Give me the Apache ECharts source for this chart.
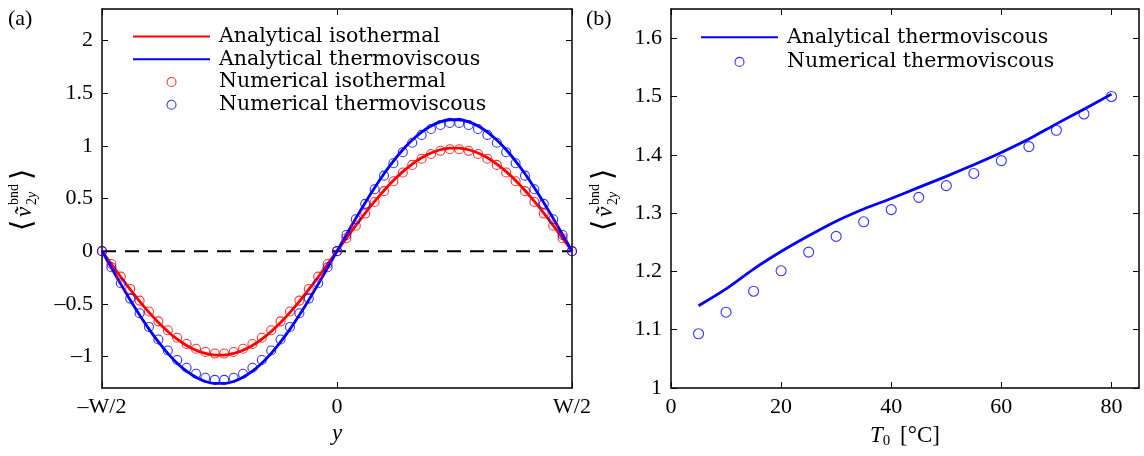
<!DOCTYPE html>
<html>
<head>
<meta charset="utf-8">
<script src="https://cdn.jsdelivr.net/npm/echarts@6/dist/echarts.min.js"></script>
<style>
html,body{margin:0;padding:0;background:#fff;}
#chart{width:1144px;height:456px;}
</style>
</head>
<body>
<div id="chart"></div>
<script>
// ---------- Panel (a) data ----------
const yPos = [-0.5,-0.48,-0.46,-0.44,-0.42,-0.4,-0.38,-0.36,-0.34,-0.32,-0.3,-0.28,-0.26,-0.24,-0.22,-0.2,-0.18,-0.16,-0.14,-0.12,-0.1,-0.08,-0.06,-0.04,-0.02,0,
  0.02,0.04,0.06,0.08,0.1,0.12,0.14,0.16,0.18,0.2,0.22,0.24,0.26,0.28,0.3,0.32,0.34,0.36,0.38,0.4,0.42,0.44,0.46,0.48,0.5];
const anaIso = [0,-0.124,-0.246,-0.364,-0.477,-0.582,-0.678,-0.763,-0.836,-0.896,-0.942,-0.972,-0.988,-0.988,-0.972,-0.942,-0.896,-0.836,-0.763,-0.678,-0.582,-0.477,-0.364,-0.246,-0.124,0,
  0.123,0.244,0.361,0.472,0.576,0.671,0.755,0.827,0.887,0.932,0.963,0.978,0.978,0.963,0.932,0.887,0.827,0.755,0.671,0.576,0.472,0.361,0.244,0.123,0];
const anaThermo = [0,-0.158,-0.313,-0.464,-0.607,-0.741,-0.862,-0.971,-1.064,-1.140,-1.198,-1.238,-1.257,-1.257,-1.238,-1.198,-1.140,-1.064,-0.971,-0.862,-0.741,-0.607,-0.464,-0.313,-0.158,0,
  0.157,0.311,0.460,0.602,0.735,0.856,0.963,1.055,1.131,1.189,1.228,1.248,1.248,1.228,1.189,1.131,1.055,0.963,0.856,0.735,0.602,0.460,0.311,0.157,0];
const numIso = [0,-0.122,-0.242,-0.359,-0.470,-0.573,-0.667,-0.751,-0.823,-0.882,-0.927,-0.958,-0.973,-0.973,-0.958,-0.927,-0.882,-0.823,-0.751,-0.667,-0.573,-0.470,-0.359,-0.242,-0.122,0,
  0.122,0.241,0.357,0.467,0.570,0.664,0.747,0.819,0.878,0.923,0.953,0.968,0.968,0.953,0.923,0.878,0.819,0.747,0.664,0.570,0.467,0.357,0.241,0.122,0];
const numThermo = [0,-0.153,-0.305,-0.451,-0.590,-0.720,-0.839,-0.944,-1.034,-1.108,-1.165,-1.203,-1.223,-1.223,-1.203,-1.165,-1.108,-1.034,-0.944,-0.839,-0.720,-0.590,-0.451,-0.305,-0.153,0,
  0.153,0.303,0.449,0.588,0.717,0.835,0.940,1.030,1.104,1.160,1.198,1.218,1.218,1.198,1.160,1.104,1.030,0.940,0.835,0.717,0.588,0.449,0.303,0.153,0];
const zeroLineX = [-0.5, 0.5];
const zeroLineY = [0, 0];
const aXTicks = [-0.5, 0, 0.5];
const aXTickLabels = ['\u2013W/2', '0', 'W/2'];
const aYTicks = [-1, -0.5, 0, 0.5, 1, 1.5, 2];

// ---------- Panel (b) data ----------
const T0 = [5,10,15,20,25,30,35,40,45,50,55,60,65,70,75,80];
const anaThermoT = [1.141,1.170,1.204,1.234,1.261,1.286,1.307,1.325,1.344,1.363,1.383,1.404,1.427,1.453,1.478,1.504];
const numThermoT = [1.093,1.130,1.166,1.201,1.233,1.260,1.285,1.306,1.327,1.347,1.368,1.390,1.414,1.442,1.470,1.500];
const bXTicks = [0, 20, 40, 60, 80];
const bYTicks = [1, 1.1, 1.2, 1.3, 1.4, 1.5, 1.6];

const names = ['Analytical isothermal','Analytical thermoviscous','Numerical isothermal','Numerical thermoviscous'];

const RED = '#ff0000', BLUE = '#0000ff';
const tickFont = {fontFamily:'"Liberation Serif", "DejaVu Serif", serif', fontSize:22, color:'#000'};
const zip = (a,b) => a.map((v,i)=>[v,b[i]]);

function axisBase(extra){
  return Object.assign({
    type:'value',
    axisLine:{show:true, onZero:false, lineStyle:{color:'#000', width:1.5}},
    axisTick:{show:true, inside:true, length:6, lineStyle:{color:'#000', width:1}},
    splitLine:{show:false},
  }, extra);
}
function negFmt(v){ return v < 0 ? '\u2013' + String(Math.abs(v)) : String(v); }

const chart = echarts.init(document.getElementById('chart'), null, {renderer:'canvas'});

const lineLegend = (n) => ({name:n, itemStyle:{opacity:0}});
const circLegend = (n, c) => ({name:n, itemStyle:{color:'rgba(0,0,0,0)', borderColor:c, borderWidth:1.1}});

const option = {
  backgroundColor:'#fff',
  animation:false,
  grid:[
    {left:102, top:9, width:470, height:379},
    {left:671, top:9, width:468, height:379}
  ],
  xAxis:[
    axisBase({gridIndex:0, position:'bottom', min:-0.5, max:0.5,
      axisTick:{show:true, inside:true, length:6, customValues:aXTicks, lineStyle:{color:'#000', width:1}},
      axisLabel:{customValues:aXTicks, margin:8, formatter:(v)=>aXTickLabels[aXTicks.indexOf(v)] ?? '', ...tickFont},
      name:'y', nameLocation:'middle', nameGap:34,
      nameTextStyle:{fontFamily:'"Liberation Serif", serif', fontStyle:'italic', fontSize:23, color:'#000'}}),
    axisBase({gridIndex:0, position:'top', min:-0.5, max:0.5,
      axisTick:{show:true, inside:true, length:6, customValues:aXTicks, lineStyle:{color:'#000', width:1}},
      axisLabel:{show:false}}),
    axisBase({gridIndex:1, position:'bottom', min:0, max:85,
      axisTick:{show:true, inside:true, length:6, customValues:bXTicks, lineStyle:{color:'#000', width:1}},
      axisLabel:{customValues:bXTicks, margin:8, ...tickFont},
      name:'{i|T}{s|0} [\u00B0C]', nameLocation:'middle', nameGap:34,
      nameTextStyle:{fontFamily:'"Liberation Serif", serif', fontSize:23, color:'#000',
        rich:{i:{fontFamily:'"Liberation Serif", serif', fontStyle:'italic', fontSize:23, color:'#000'},
              s:{fontFamily:'"Liberation Serif", serif', fontSize:15, color:'#000', padding:[12,4,0,0]}}}}),
    axisBase({gridIndex:1, position:'top', min:0, max:85,
      axisTick:{show:true, inside:true, length:6, customValues:bXTicks, lineStyle:{color:'#000', width:1}},
      axisLabel:{show:false}})
  ],
  yAxis:[
    axisBase({gridIndex:0, position:'left', min:-1.3, max:2.3,
      axisTick:{show:true, inside:true, length:6, customValues:aYTicks, lineStyle:{color:'#000', width:1}},
      axisLabel:{customValues:aYTicks, margin:9, formatter:negFmt, ...tickFont}}),
    axisBase({gridIndex:0, position:'right', min:-1.3, max:2.3,
      axisTick:{show:true, inside:true, length:6, customValues:aYTicks, lineStyle:{color:'#000', width:1}},
      axisLabel:{show:false}}),
    axisBase({gridIndex:1, position:'left', min:1, max:1.65,
      axisTick:{show:true, inside:true, length:6, customValues:bYTicks, lineStyle:{color:'#000', width:1}},
      axisLabel:{customValues:bYTicks, margin:9, formatter:(v)=>String(Math.round(v*10)/10), ...tickFont}}),
    axisBase({gridIndex:1, position:'right', min:1, max:1.65,
      axisTick:{show:true, inside:true, length:6, customValues:bYTicks, lineStyle:{color:'#000', width:1}},
      axisLabel:{show:false}})
  ],
  legend:[
    {data:[lineLegend(names[0]), lineLegend(names[1]), circLegend(names[2], RED), circLegend(names[3], BLUE)],
     orient:'vertical', left:132, top:25, padding:0, itemGap:0,
     itemWidth:77, itemHeight:9,
     textStyle:{fontFamily:'"DejaVu Serif", serif', fontSize:20.5, lineHeight:22.8, color:'#000', padding:[0,0,0,4]},
     selectedMode:false},
    {data:[lineLegend(names[1]), circLegend(names[3], BLUE)], orient:'vertical', left:700, top:25, padding:0, itemGap:0,
     itemWidth:77, itemHeight:9,
     textStyle:{fontFamily:'"DejaVu Serif", serif', fontSize:20.5, lineHeight:24.6, color:'#000', padding:[0,0,0,4]},
     selectedMode:false}
  ],
  series:[
    {type:'line', xAxisIndex:0, yAxisIndex:0, data:zip(zeroLineX, zeroLineY), symbol:'none', silent:true,
     lineStyle:{color:'#000', width:2, type:[14,9]}, z:1},
    {name:names[0], type:'line', xAxisIndex:0, yAxisIndex:0, data:zip(yPos, anaIso), symbol:'none', showSymbol:false,
     smooth:0.3, color:RED, itemStyle:{opacity:0}, lineStyle:{color:RED, width:2.8}, z:3},
    {name:names[1], type:'line', xAxisIndex:0, yAxisIndex:0, data:zip(yPos, anaThermo), symbol:'none', showSymbol:false,
     smooth:0.3, color:BLUE, itemStyle:{opacity:0}, lineStyle:{color:BLUE, width:2.8}, z:3},
    {name:names[2], type:'scatter', xAxisIndex:0, yAxisIndex:0, data:zip(yPos, numIso), symbol:'circle', symbolSize:9,
     itemStyle:{color:'rgba(0,0,0,0)', borderColor:RED, borderWidth:1.1}, z:4},
    {name:names[3], type:'scatter', xAxisIndex:0, yAxisIndex:0, data:zip(yPos, numThermo), symbol:'circle', symbolSize:9,
     itemStyle:{color:'rgba(0,0,0,0)', borderColor:BLUE, borderWidth:1.1}, z:4},
    {name:names[1], type:'line', xAxisIndex:2, yAxisIndex:2, data:zip(T0, anaThermoT), symbol:'none', showSymbol:false,
     smooth:0.3, color:BLUE, itemStyle:{opacity:0}, lineStyle:{color:BLUE, width:2.8}, z:3},
    {name:names[3], type:'scatter', xAxisIndex:2, yAxisIndex:2, data:zip(T0, numThermoT), symbol:'circle', symbolSize:10,
     itemStyle:{color:'rgba(0,0,0,0)', borderColor:BLUE, borderWidth:1.1}, z:4}
  ],
  graphic:[
    {type:'text', left:8, top:8, style:{text:'(a)', fontFamily:'"Liberation Serif", serif', fontSize:22, fill:'#000'}},
    {type:'text', left:586, top:8, style:{text:'(b)', fontFamily:'"Liberation Serif", serif', fontSize:22, fill:'#000'}},
    yLabel(23, 197),
    yLabel(604, 197)
  ]
};

function yLabel(x, y){
  const serif = '"Liberation Serif", "DejaVu Serif", serif';
  return {type:'group', x:x, y:y, rotation:Math.PI/2, silent:true, children:[
    {type:'text', x:-34, y:0, style:{text:'\u27E8', fontFamily:'"DejaVu Serif", "DejaVu Sans", serif', fontSize:29, fill:'#000', align:'left', verticalAlign:'middle'}},
    {type:'text', x:-20, y:2, style:{text:'\u1E7D', fontFamily:serif, fontStyle:'italic', fontSize:23, fill:'#000', align:'left', verticalAlign:'middle'}},
    {type:'text', x:-8, y:-9, style:{text:'bnd', fontFamily:serif, fontSize:14, fill:'#000', align:'left', verticalAlign:'middle'}},
    {type:'text', x:-8, y:9, style:{text:'{n|2}{i|y}', fontFamily:serif, fontSize:14, fill:'#000', align:'left', verticalAlign:'middle',
      rich:{n:{fontFamily:serif, fontSize:14, fill:'#000'}, i:{fontFamily:serif, fontStyle:'italic', fontSize:14, fill:'#000'}}}},
    {type:'text', x:17, y:0, style:{text:'\u27E9', fontFamily:'"DejaVu Serif", "DejaVu Sans", serif', fontSize:29, fill:'#000', align:'left', verticalAlign:'middle'}}
  ]};
}

chart.setOption(option);
</script>
</body>
</html>
